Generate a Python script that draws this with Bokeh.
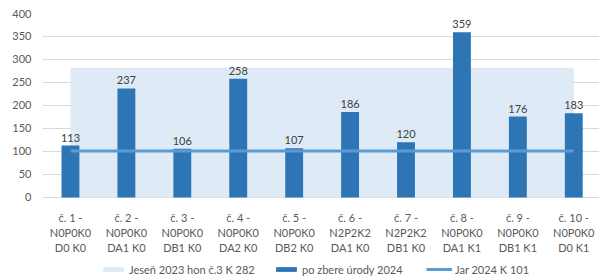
from bokeh.plotting import figure
from bokeh.models import Range1d, Legend, LegendItem, FixedTicker, ColumnDataSource
from bokeh.embed import file_html
from bokeh.resources import INLINE
from bokeh.core.properties import value

categories = [
    "č. 1 -\nN0P0K0\nD0 K0",
    "č. 2 -\nN0P0K0\nDA1 K0",
    "č. 3 -\nN0P0K0\nDB1 K0",
    "č. 4 -\nN0P0K0\nDA2 K0",
    "č. 5 -\nN0P0K0\nDB2 K0",
    "č. 6 -\nN2P2K2\nDA1 K0",
    "č. 7 -\nN2P2K2\nDB1 K0",
    "č. 8 -\nN0P0K0\nDA1 K1",
    "č. 9 -\nN0P0K0\nDB1 K1",
    "č. 10 -\nN0P0K0\nD0 K1",
]
harvest_2024 = [113, 237, 106, 258, 107, 186, 120, 359, 176, 183]
autumn_2023 = [282, 282, 282, 282, 282, 282, 282, 282, 282, 282]
spring_2024 = [101, 101, 101, 101, 101, 101, 101, 101, 101, 101]
y_ticks = [0, 50, 100, 150, 200, 250, 300, 350, 400]

series_names = ["Jeseň 2023 hon č.3 K 282", "po zbere úrody 2024", "Jar 2024 K 101"]

xs = list(range(1, len(categories) + 1))
zeros = [0] * len(categories)
parts = [c.split("\n") for c in categories]
src = ColumnDataSource(dict(x=xs, zero=zeros,
                            l1=[q[0] for q in parts], l2=[q[1] for q in parts],
                            l3=[q[2] for q in parts],
                            harvest=harvest_2024, autumn=autumn_2023,
                            spring=spring_2024,
                            lbl=[str(v) for v in harvest_2024]))

FONT = "Lato"
TXT = "#595959"

# frame spans down to the page bottom so that the legend (drawn inside it) is visible
p = figure(width=599, height=278, output_backend="svg", toolbar_location=None,
           x_range=Range1d(0.5, 10.46), y_range=Range1d(-176.1, 400),
           x_axis_location=None,
           min_border_left=42, min_border_right=0, min_border_top=13,
           min_border_bottom=0)
p.outline_line_color = None
p.background_fill_color = "white"
p.border_fill_color = "white"

area = p.varea(x="x", y1="zero", y2="autumn", source=src, fill_color="#DEEBF7")
bars = p.vbar(x="x", top="harvest", width=0.32, source=src,
              fill_color="#2E75B6", line_color=None)
line = p.line(x="x", y="spring", source=src, line_color="#5B9BD5", line_width=3)

# value labels above bars
p.text(x="x", y="harvest", text="lbl", source=src, text_align="center",
       text_baseline="alphabetic", y_offset=-8, text_font=value(FONT),
       text_font_size="11px", text_color="#404040")

# category labels (three rows) below the zero line
for col, off in (("l1", 20), ("l2", 35), ("l3", 50)):
    p.text(x="x", y="zero", text=col, source=src, text_align="center",
           text_baseline="alphabetic", y_offset=off, text_font=value(FONT),
           text_font_size="11px", text_color=TXT)

p.xgrid.visible = False
p.ygrid.grid_line_color = "#D9D9D9"
p.ygrid.grid_line_width = 1
p.ygrid.ticker = FixedTicker(ticks=y_ticks)
p.yaxis.ticker = FixedTicker(ticks=y_ticks)

ax = p.yaxis[0]
ax.axis_line_color = None
ax.major_tick_line_color = None
ax.minor_tick_line_color = None
ax.major_tick_out = 0
ax.major_tick_in = 0
ax.minor_tick_out = 0
ax.major_label_text_font = FONT
ax.major_label_text_font_size = "11px"
ax.major_label_text_color = TXT
ax.major_label_standoff = 11

for name, rend, xloc in ((series_names[0], area, 58),
                         (series_names[1], bars, 231),
                         (series_names[2], line, 384)):
    lg = Legend(items=[LegendItem(label=name, renderers=[rend])],
                orientation="horizontal", location=(xloc, 2),
                background_fill_alpha=0, border_line_color=None,
                padding=0, margin=0, spacing=0, glyph_width=26, glyph_height=6,
                label_standoff=3, label_text_font=FONT, label_text_font_size="11px",
                label_text_color=TXT, label_height=14)
    p.add_layout(lg, "center")

open("out.html", "w").write(file_html(p, INLINE))
